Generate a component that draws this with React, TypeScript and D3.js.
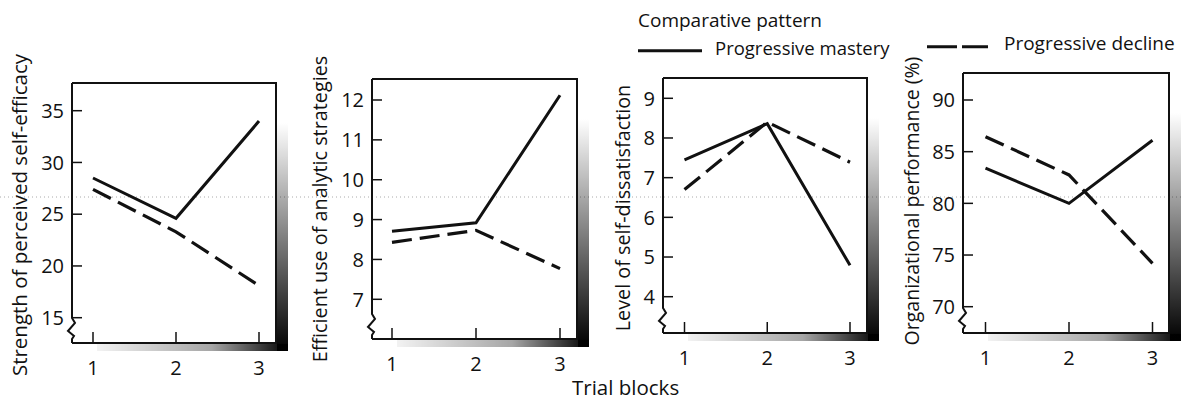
import React from "react";
import * as d3 from "d3";

// ---------- data ----------
const trialBlocks = [1, 2, 3];
const seriesNames = ["Progressive mastery", "Progressive decline"];
const legendTitle = "Comparative pattern";
const xAxisTitle = "Trial blocks";

const yTitles = [
  "Strength of perceived self-efficacy",
  "Efficient use of analytic strategies",
  "Level of self-dissatisfaction",
  "Organizational performance (%)",
];

const efficacyMastery = [28.5, 24.6, 34.0];
const efficacyDecline = [27.4, 23.3, 18.1];
const strategiesMastery = [8.71, 8.92, 12.12];
const strategiesDecline = [8.43, 8.73, 7.77];
const dissatMastery = [7.45, 8.36, 4.79];
const dissatDecline = [6.7, 8.4, 7.39];
const performanceMastery = [83.4, 80.0, 86.1];
const performanceDecline = [86.45, 82.75, 74.2];

const efficacyTicks = [15, 20, 25, 30, 35];
const strategiesTicks = [7, 8, 9, 10, 11, 12];
const dissatTicks = [4, 5, 6, 7, 8, 9];
const performanceTicks = [70, 75, 80, 85, 90];

// ---------- layout ----------
type Panel = {
  left: number; top: number; right: number; bottom: number;
  x1: number; x3: number;
  yLo: number; yHi: number; yLoPx: number; yHiPx: number;
  ticks: number[]; mastery: number[]; decline: number[];
  title: string; titleX: number; titleY: number; titleSize: number;
};

const panels: Panel[] = [
  { left: 72, top: 83, right: 276, bottom: 343, x1: 93, x3: 259,
    yLo: 15, yHi: 35, yLoPx: 317.7, yHiPx: 110.7,
    ticks: efficacyTicks, mastery: efficacyMastery, decline: efficacyDecline,
    title: yTitles[0], titleX: 27, titleY: 215, titleSize: 20.5 },
  { left: 372, top: 79, right: 577, bottom: 339, x1: 392, x3: 560,
    yLo: 7, yHi: 12, yLoPx: 299.3, yHiPx: 100,
    ticks: strategiesTicks, mastery: strategiesMastery, decline: strategiesDecline,
    title: yTitles[1], titleX: 327, titleY: 209, titleSize: 19.8 },
  { left: 663, top: 78, right: 867, bottom: 333, x1: 684.5, x3: 850,
    yLo: 4, yHi: 9, yLoPx: 296.7, yHiPx: 98.3,
    ticks: dissatTicks, mastery: dissatMastery, decline: dissatDecline,
    title: yTitles[2], titleX: 630, titleY: 208, titleSize: 19.8 },
  { left: 963, top: 73, right: 1169, bottom: 333, x1: 985.5, x3: 1152.5,
    yLo: 70, yHi: 90, yLoPx: 306.7, yHiPx: 100,
    ticks: performanceTicks, mastery: performanceMastery, decline: performanceDecline,
    title: yTitles[3], titleX: 919, titleY: 201, titleSize: 19.5 },
];

const FONT = "'Open Sans', 'DejaVu Sans', sans-serif";
const DASH = "20 8";

function PanelView({ p, i }: { p: Panel; i: number }) {
  const x = d3.scaleLinear().domain([1, 3]).range([p.x1, p.x3]);
  const y = d3.scaleLinear().domain([p.yLo, p.yHi]).range([p.yLoPx, p.yHiPx]);
  const line = d3
    .line<number>()
    .x((_, k) => x(trialBlocks[k]))
    .y((v) => y(v));
  const yb = p.bottom - 25;
  const axisPath =
    `M${p.left},${p.top} L${p.left},${yb} L${p.left + 3},${yb + 5} ` +
    `L${p.left - 4},${yb + 13} L${p.left + 2},${yb + 18} L${p.left},${yb + 21} L${p.left},${p.bottom}`;
  return (
    <g>
      {/* shadow */}
      <rect x={p.right + 1} y={p.top + 40} width={11} height={p.bottom - p.top - 32}
        fill={`url(#vshade${i})`} />
      <rect x={p.left + 25} y={p.bottom + 1} width={p.right - p.left - 13} height={7}
        fill={`url(#hshade${i})`} />
      {/* frame */}
      <path d={`M${p.left},${p.top} L${p.right},${p.top} L${p.right},${p.bottom} L${p.left},${p.bottom}`}
        fill="none" stroke="#111" strokeWidth={2} />
      <path d={axisPath} fill="none" stroke="#111" strokeWidth={2} />
      {/* y ticks */}
      {p.ticks.map((t) => (
        <g key={t}>
          <line x1={p.left} x2={p.left + 10} y1={y(t)} y2={y(t)} stroke="#111" strokeWidth={1.5} />
          <text x={p.left - 8} y={y(t)} dy="0.36em" textAnchor="end" fontSize={20}
            fontFamily={FONT} fill="#111">{t}</text>
        </g>
      ))}
      {/* x ticks */}
      {trialBlocks.map((t) => (
        <g key={t}>
          <line x1={x(t)} x2={x(t)} y1={p.bottom} y2={p.bottom - 11} stroke="#111" strokeWidth={1.5} />
          <text x={x(t)} y={p.bottom + 32} textAnchor="middle" fontSize={20}
            fontFamily={FONT} fill="#111">{t}</text>
        </g>
      ))}
      {/* series */}
      <path d={line(p.mastery) || ""} fill="none" stroke="#111" strokeWidth={3} />
      <path d={line(p.decline) || ""} fill="none" stroke="#111" strokeWidth={3.2}
        strokeDasharray={DASH} />
      {/* y title */}
      <text transform={`translate(${p.titleX},${p.titleY}) rotate(-90)`} textAnchor="middle"
        fontSize={p.titleSize} fontFamily={FONT} fill="#111">{p.title}</text>
    </g>
  );
}

export default function App() {
  return (
    <svg width={1184} height={401} style={{ position: "absolute", left: 0, top: 0, background: "#fff" }}>
      <defs>
        {panels.map((_, i) => (
          <React.Fragment key={i}>
            <linearGradient id={`vshade${i}`} x1="0" y1="0" x2="0" y2="1">
              <stop offset="0" stopColor="#000" stopOpacity={0} />
              <stop offset="0.35" stopColor="#000" stopOpacity={0.35} />
              <stop offset="1" stopColor="#000" stopOpacity={1} />
            </linearGradient>
            <linearGradient id={`hshade${i}`} x1="0" y1="0" x2="1" y2="0">
              <stop offset="0" stopColor="#000" stopOpacity={0.05} />
              <stop offset="0.6" stopColor="#000" stopOpacity={0.35} />
              <stop offset="1" stopColor="#000" stopOpacity={1} />
            </linearGradient>
          </React.Fragment>
        ))}
      </defs>
      <line x1={0} x2={1184} y1={197} y2={197} stroke="#aaa" strokeWidth={1} strokeDasharray="1 3" />
      {panels.map((p, i) => (
        <PanelView key={i} p={p} i={i} />
      ))}
      {/* legend */}
      <text x={638} y={27} fontSize={19} fontFamily={FONT} fill="#111">{legendTitle}</text>
      <line x1={638} x2={702} y1={50.7} y2={50.7} stroke="#111" strokeWidth={3} />
      <text x={715} y={55} fontSize={18.5} fontFamily={FONT} fill="#111">{seriesNames[0]}</text>
      <line x1={927} x2={988} y1={46.7} y2={46.7} stroke="#111" strokeWidth={3}
        strokeDasharray="30 5" />
      <text x={1004} y={50} fontSize={19} fontFamily={FONT} fill="#111">{seriesNames[1]}</text>
      <text x={572} y={395} fontSize={20.5} fontFamily={FONT} fill="#111">{xAxisTitle}</text>
    </svg>
  );
}
